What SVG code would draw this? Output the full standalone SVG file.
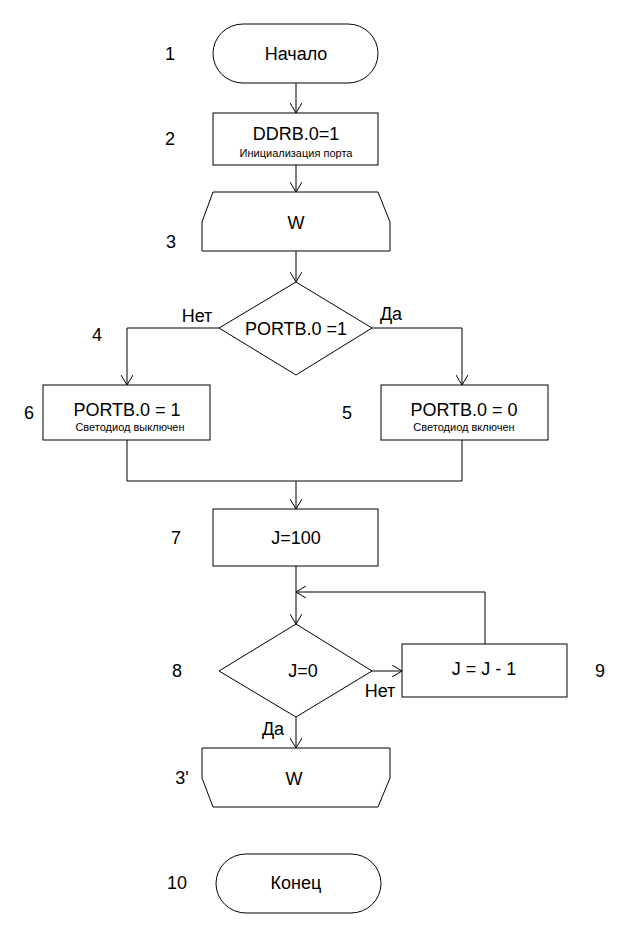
<svg xmlns="http://www.w3.org/2000/svg" width="629" height="936" viewBox="0 0 629 936">
<style>
.s{fill:#fff;stroke:#000;stroke-width:1}
.c{fill:none;stroke:#000;stroke-width:1}
text{font-family:"Liberation Sans",Arial,sans-serif;fill:#000}
.m{font-size:18px;text-anchor:middle}
.sm{font-size:11px;text-anchor:middle}
.n{font-size:18px;text-anchor:middle}
</style>
<defs><marker id="a" markerWidth="12" markerHeight="12" refX="10" refY="6" orient="auto" markerUnits="userSpaceOnUse"><path d="M0,0 L10,6 L0,12" fill="none" stroke="#000"/></marker></defs>
<rect width="629" height="936" fill="#fff"/>
<g id="connectors">
<path class="c" d="M296,83 V113" marker-end="url(#a)"/>
<path class="c" d="M296,165 V192" marker-end="url(#a)"/>
<path class="c" d="M296,251 V282" marker-end="url(#a)"/>
<path class="c" d="M219,328 H127 V385" marker-end="url(#a)"/>
<path class="c" d="M372,328 H462 V385" marker-end="url(#a)"/>
<path class="c" d="M127,440 V481 H462 V440"/>
<path class="c" d="M296,481 V509" marker-end="url(#a)"/>
<path class="c" d="M296,566 V624" marker-end="url(#a)"/>
<path class="c" d="M485,644 V592 H296" marker-end="url(#a)"/>
<path class="c" d="M372,671 H402" marker-end="url(#a)"/>
<path class="c" d="M296,717 V748" marker-end="url(#a)"/>
</g>
<g id="n1"><rect class="s" x="213" y="24" width="165" height="59" rx="30"/><text class="m" x="296" y="60">Начало</text><text class="n" x="170" y="60">1</text></g>
<g id="n2"><rect class="s" x="213" y="113" width="165" height="52"/><text class="m" x="296" y="140">DDRB.0=1</text><text class="sm" x="296" y="157">Инициализация порта</text><text class="n" x="170" y="145">2</text></g>
<g id="n3"><path class="s" d="M213,192 H378 L390,222 V251 H202 V222 Z"/><text class="m" x="296" y="229">W</text><text class="n" x="171" y="248">3</text></g>
<g id="n4"><path class="s" d="M296,282 L372,328 L296,375 L219,328 Z"/><text class="m" x="296" y="335">PORTB.0 =1</text><text class="n" x="97" y="341">4</text><text class="m" x="197" y="322">Нет</text><text class="m" x="391" y="320">Да</text></g>
<g id="n6"><rect class="s" x="43" y="385" width="167" height="55"/><text class="m" x="127" y="416">PORTB.0 = 1</text><text class="sm" x="130" y="431">Светодиод выключен</text><text class="n" x="29" y="419">6</text></g>
<g id="n5"><rect class="s" x="381" y="385" width="167" height="55"/><text class="m" x="464" y="416">PORTB.0 = 0</text><text class="sm" x="464" y="431">Светодиод включен</text><text class="n" x="347" y="419">5</text></g>
<g id="n7"><rect class="s" x="213" y="509" width="165" height="57"/><text class="m" x="296" y="544">J=100</text><text class="n" x="176" y="544">7</text></g>
<g id="n8"><path class="s" d="M296,624 L372,671 L296,717 L219,671 Z"/><text class="m" x="303" y="677">J=0</text><text class="n" x="177" y="677">8</text><text class="m" x="380" y="697">Нет</text><text class="m" x="273" y="735">Да</text></g>
<g id="n9"><rect class="s" x="402" y="644" width="165" height="53"/><text class="m" x="484" y="675">J = J - 1</text><text class="n" x="600" y="677">9</text></g>
<g id="n3b"><path class="s" d="M202,748 H390 V778 L378,807 H213 L202,778 Z"/><text class="m" x="294" y="785">W</text><text class="n" x="182" y="784">3'</text></g>
<g id="n10"><rect class="s" x="216" y="854" width="165" height="59" rx="30"/><text class="m" x="296" y="889">Конец</text><text class="n" x="177" y="889">10</text></g>
</svg>
